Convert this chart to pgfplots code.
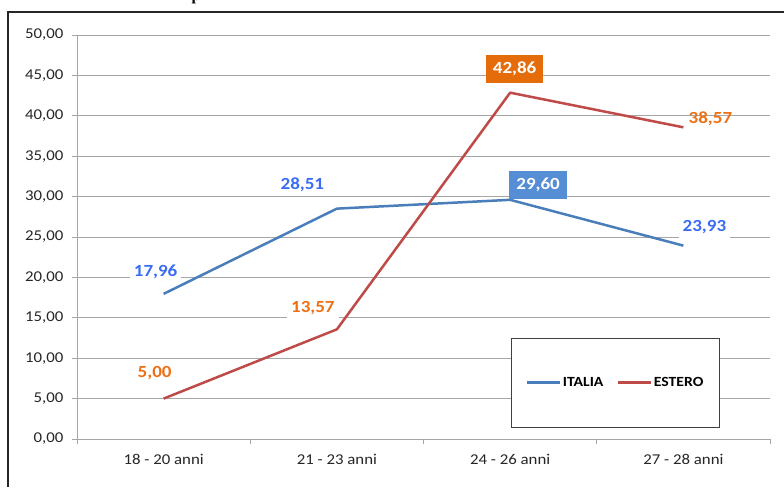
\documentclass[border=0pt]{standalone}
\usepackage{pgfplots}
\pgfplotsset{compat=1.18}
\usepackage{fontspec}
\setmainfont{Carlito}[FakeStretch=1.12]
\newfontfamily\titlefont{Liberation Serif}
\definecolor{itblue}{HTML}{4A7EBB}
\definecolor{esred}{HTML}{BE4B48}
\definecolor{lblblue}{HTML}{3A6CF5}
\definecolor{lblorange}{HTML}{EE7014}
\definecolor{boxblue}{HTML}{558ED5}
\definecolor{boxorange}{HTML}{E46C0A}
\definecolor{gridc}{HTML}{A6A6A6}
\tikzset{
  lbl/.style={font=\bfseries\fontsize{17}{17}\selectfont, fill=white, inner sep=4pt},
  bx/.style={font=\bfseries\fontsize{17}{17}\selectfont, text=white, inner xsep=7pt, minimum height=28pt},
}
\begin{document}
\begin{tikzpicture}[x=1pt,y=1pt]
\useasboundingbox (0,0) rectangle (784,487);
\fill[white] (0,0) rectangle (784,487);
\node[anchor=base, font=\titlefont\bfseries\fontsize{16}{16}\selectfont, inner sep=0] at (196,486.5) {p};
\draw[line width=2pt, black!85] (784,475) -- (8,475) -- (8,0);
\begin{axis}[
  at={(77pt,48pt)}, anchor=south west, scale only axis,
  width=693pt, height=404pt,
  xmin=-0.5, xmax=3.5, ymin=0, ymax=50,
  clip=false,
  axis x line=bottom, axis y line=left,
  axis line style={gridc, line width=0.8pt, -},
  xtick={-0.5,0.5,1.5,2.5,3.5},
  xticklabels={18 - 20 anni, 21 - 23 anni, 24 - 26 anni, 27 - 28 anni, },
  x tick label as interval,
  ytick={0,5,...,50},
  yticklabel={\pgfmathprintnumber[fixed,fixed zerofill,precision=2,use comma,assume math mode=true]{\tick}},
  ymajorgrids, grid style={gridc, line width=0.8pt},
  tick style={gridc, line width=0.8pt},
  tick align=outside, major tick length=5pt,
  ticklabel style={font=\fontsize{15}{15}\selectfont, text=black!85},
  yticklabel style={xshift=-5pt},
  xticklabel style={yshift=-7pt},
  legend style={at={(rel axis cs:0.6263,0.25)}, anchor=north west,
    draw=black!75, line width=0.8pt, inner xsep=14pt, inner ysep=37pt,
    font=\bfseries\fontsize{14}{14}\selectfont,
    /tikz/every even column/.append style={column sep=11pt}},
  legend columns=2,
  legend image code/.code={\draw[#1, line width=2.5pt] (0pt,0pt) -- (33pt,0pt);},
]
\addplot[itblue, line width=2.5pt, line join=round] coordinates {(0,17.96) (1,28.51) (2,29.60) (3,23.93)};
\addlegendentry{ITALIA}
\addplot[esred, line width=2.5pt, line join=round] coordinates {(0,5.00) (1,13.57) (2,42.86) (3,38.57)};
\addlegendentry{ESTERO}
\node[lbl, text=lblblue, xshift=-8pt, yshift=22.5pt] at (axis cs:0,17.96) {17,96};
\node[lbl, text=lblblue, xshift=-34.5pt, yshift=24pt] at (axis cs:1,28.51) {28,51};
\node[bx, fill=boxblue, xshift=28pt, yshift=15pt] at (axis cs:2,29.60) {29,60};
\node[lbl, text=lblblue, xshift=21pt, yshift=18.5pt] at (axis cs:3,23.93) {23,93};
\node[lbl, text=lblorange, xshift=-9pt, yshift=26pt] at (axis cs:0,5.00) {5,00};
\node[lbl, text=lblorange, xshift=-24pt, yshift=21pt] at (axis cs:1,13.57) {13,57};
\node[bx, fill=boxorange, xshift=4.5pt, yshift=24pt] at (axis cs:2,42.86) {42,86};
\node[lbl, text=lblorange, xshift=27pt, yshift=9pt, fill=none] at (axis cs:3,38.57) {38,57};
\end{axis}
\end{tikzpicture}
\end{document}
